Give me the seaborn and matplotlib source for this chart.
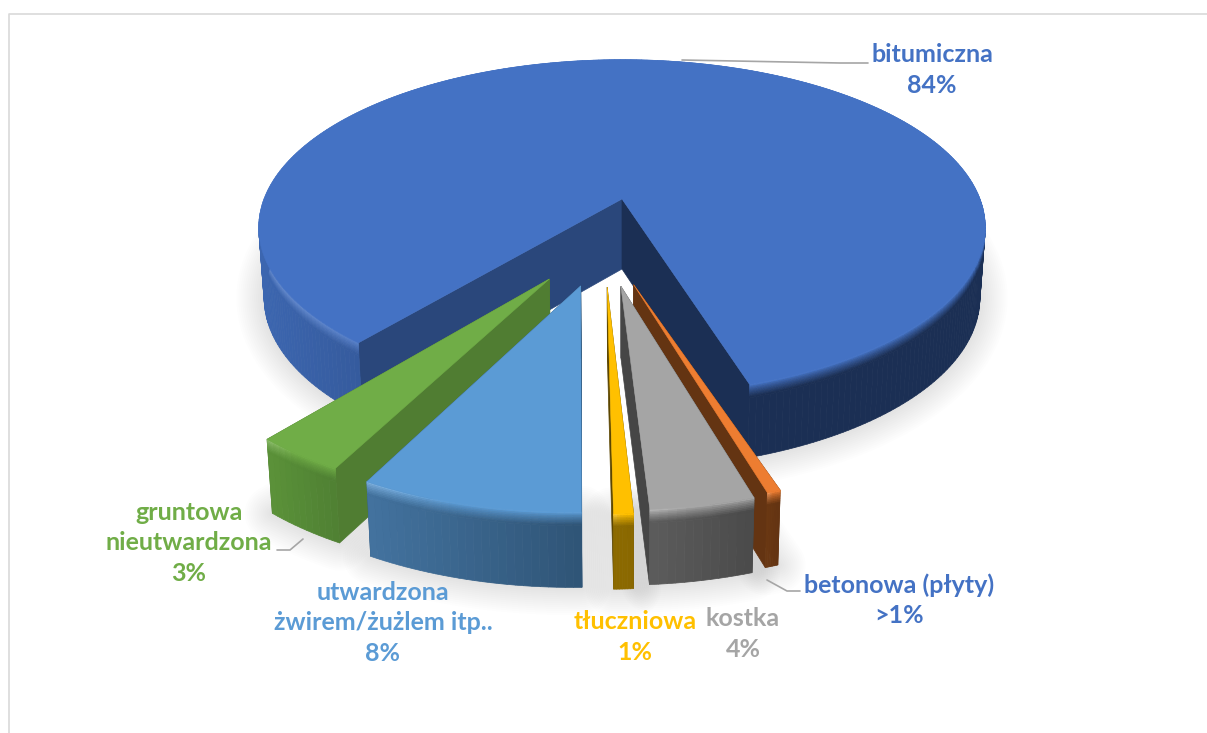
import numpy as np
import seaborn as sns
import matplotlib
matplotlib.use('Agg')
import matplotlib.pyplot as plt
from matplotlib.collections import PolyCollection
from matplotlib.colors import to_rgb

sns.set_theme(style='white')
plt.rcParams['font.family'] = ['Lato', 'DejaVu Sans']

# chart data, clockwise from the right edge of the gap
categories = ['betonowa (płyty)', 'kostka', 'tłuczniowa',
              'utwardzona\nżwirem/żużlem itp..', 'gruntowa\nnieutwardzona', 'bitumiczna']
values = [0.5, 3.8, 0.7, 8, 3.4, 84.1]
value_labels = ['>1%', '4%', '1%', '8%', '3%', '84%']

# office theme colours
face_colors = sns.color_palette(['#ED7D31', '#A5A5A5', '#FFC000', '#5B9BD5', '#70AD47', '#4472C4'])
side_left = ['#6A3813', '#5C5C5C', '#8C6A00', '#43739F', '#5B9239', '#3C66B0']
side_right = ['#643412', '#4A4A4A', '#8A6800', '#2F5476', '#4F8033', '#1B2F54']
wall_colors = ['#643412', '#464646', '#5C4600', '#2F5476', '#507D32', '#2A477B']
text_colors = ['#4472C4', '#A5A5A5', '#FFC000', '#5B9BD5', '#70AD47', '#4472C4']
radii = [0.94, 0.95, 0.96, 0.96, 0.945, 1.0]
label_pos = [(899, 600), (743, 634), (635, 637), (383, 623), (189, 543), (932, 70)]
draw_order = [5, 4, 0, 1, 2, 3]

# perspective of the pie plane
CX, CY, A, B, K = 622, 199, 358, 163, 0.17
DEPTH = 70
EXPLODE = 0.25
START = 70.8


def project(u, v, z=0.0):
    s = 1 / (1 - K * v)
    x = CX + A * u * s
    y = CY + B * v * s
    x = CX + (x - CX) * (1 - 0.015 * z)
    y = y + DEPTH * z * s ** 0.25
    return x, y


def mix(c1, c2, t):
    return tuple(np.array(to_rgb(c1)) * (1 - t) + np.array(to_rgb(c2)) * t)


sweeps = np.array(values) * 3.6
starts = START + np.concatenate([[0], np.cumsum(sweeps)[:-1]])
mids = np.radians(starts + sweeps / 2)
centre = -EXPLODE * np.array([np.cos(mids[5]), np.sin(mids[5])])

fig = plt.figure(figsize=(12.07, 7.33), dpi=100)
ax = fig.add_axes([0, 0, 1, 1])
ax.set_xlim(0, 1207)
ax.set_ylim(733, 0)
ax.axis('off')

# chart frame
ax.plot([9, 9, 1207], [733, 14, 14], color='#D9D9D9', lw=1.2)


def arc_points(i, r, n=None):
    n = n or max(8, int(sweeps[i]))
    th = np.radians(np.linspace(starts[i], starts[i] + sweeps[i], n))
    ox = centre[0] + EXPLODE * np.cos(mids[i])
    oy = centre[1] + EXPLODE * np.sin(mids[i])
    return ox, oy, ox + r * np.cos(th), oy + r * np.sin(th)


# soft shadow under the outer rims
for i in draw_order:
    ox, oy, u, v = arc_points(i, radii[i])
    ui = ox + (u - ox) * 0.72
    vi = oy + (v - oy) * 0.72
    xo, yo = project(u, v, 1.0)
    xi, yi = project(ui[::-1], vi[::-1], 1.0)
    px = np.concatenate([xo, xi])
    py = np.concatenate([yo, yi])
    for w in np.linspace(3, 40, 14):
        ax.fill(px, py, fc='black', ec='black', alpha=0.0065, lw=w, joinstyle='round', zorder=1)

z = 2
for i in draw_order:
    r = radii[i]
    ox, oy, u, v = arc_points(i, r)
    # radial walls
    for end in [0, -1]:
        x0, y0 = project(ox, oy)
        x1, y1 = project(u[end], v[end])
        x2, y2 = project(u[end], v[end], 1)
        x3, y3 = project(ox, oy, 1)
        wall = side_right[i] if (i == 5 and end == -1) else wall_colors[i]
        ax.fill([x0, x1, x2, x3], [y0, y1, y2, y3], color=wall, lw=0.5, zorder=z)
    # outer side with a bevel at the top, split into small quads
    xs, _ = project(u, v)
    xl = xs.min()
    xr = xs[-1] if i == 5 else xs[0]
    levels = np.concatenate([np.linspace(0, 0.18, 9), [1.0]])
    quads, cols = [], []
    for k in range(len(u) - 1):
        t = np.clip((0.5 * (xs[k] + xs[k + 1]) - xl) / max(xr - xl, 1), 0, 1)
        side = mix(side_left[i], side_right[i], t)
        top = mix(mix(face_colors[i], 'white', 0.22), face_colors[i], min(1, t * 2.5))
        for m in range(len(levels) - 1):
            a, b = levels[m], levels[m + 1]
            p1 = project(u[k], v[k], a)
            p2 = project(u[k + 1], v[k + 1], a)
            p3 = project(u[k + 1], v[k + 1], b)
            p4 = project(u[k], v[k], b)
            quads.append([p1, p2, p3, p4])
            cols.append(mix(top, side, min(1, (m / 7.0) ** 0.8)))
    ax.add_collection(PolyCollection(quads, facecolors=cols, edgecolors=cols, linewidths=0.5, zorder=z + 1))
    # top face
    fx, fy = project(np.concatenate([[ox], u]), np.concatenate([[oy], v]))
    ax.fill(fx, fy, color=face_colors[i], lw=0.4, zorder=z + 2)
    z += 3

# leader lines
ax.plot([682, 840, 868], [60, 63, 63], color='#A6A6A6', lw=1.2, zorder=z)
ax.plot([303, 290, 277], [539, 550, 550], color='#A6A6A6', lw=1.2, zorder=z)
ax.plot([767, 787, 800], [580, 591, 591], color='#A6A6A6', lw=1.2, zorder=z)

for i, name in enumerate(categories):
    ax.text(label_pos[i][0], label_pos[i][1], name + '\n' + value_labels[i], color=text_colors[i],
            ha='center', va='center', fontsize=18, fontweight='bold', linespacing=1.38, zorder=z)

fig.savefig('out.png', dpi=100)
